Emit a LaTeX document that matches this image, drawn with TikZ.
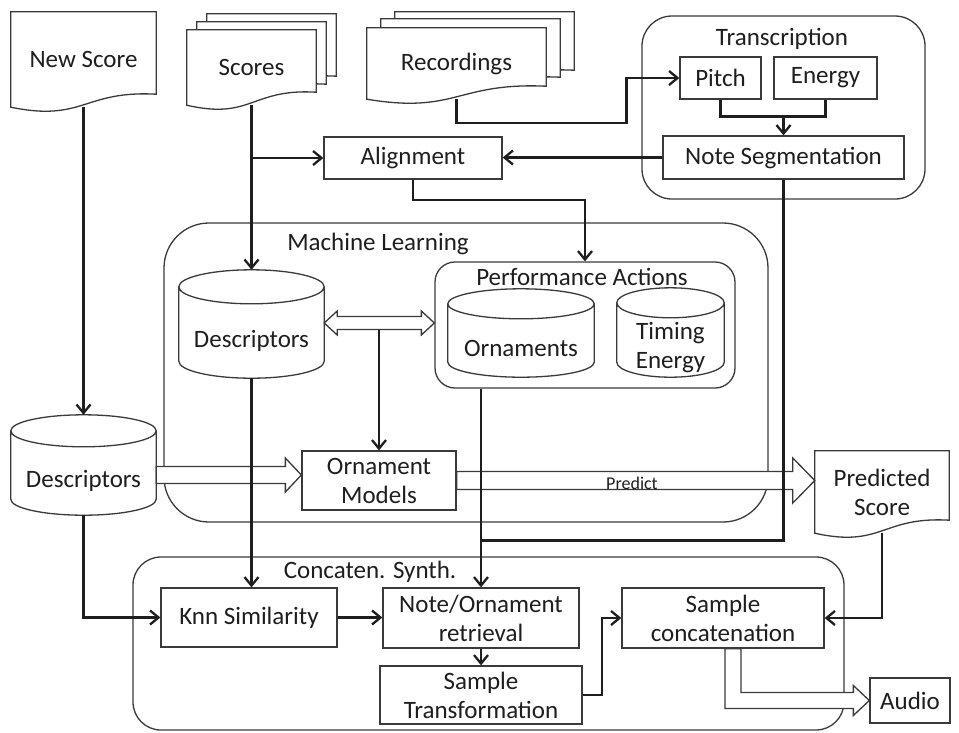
\documentclass[tikz,border=0pt]{standalone}
\usepackage{fontspec}
\setmainfont{Carlito}
\usepackage{xcolor}
\usepackage{tikz}
\usetikzlibrary{calc,arrows.meta,backgrounds}

\definecolor{ink}{HTML}{1E1E1E}
\definecolor{frame}{HTML}{3A3A3A}

% document outline round a node (node, x shift, y shift)
\newcommand{\docshape}[3]{%
  \draw[docline] let \p1=($(#1.north west)+(#2,#3)$), \p2=($(#1.south east)+(#2,#3)$) in
    (\x1,\y1) -- (\x2,\y1) -- (\x2,\y2+13pt)
    .. controls ({0.5*\x1+0.5*\x2},\y2+17pt) and ({0.5*\x1+0.5*\x2},\y2-15pt) .. (\x1,\y2) -- cycle;}
% cylinder above and round a node (node, half height of the ellipse)
\newcommand{\dbshape}[2]{%
  \draw[docline] let \p1=(#1.north west), \p2=(#1.south east) in
    (\x1,\y1+#2) -- (\x1,\y2+#2)
    arc[start angle=180, end angle=360, x radius={0.5*\x2-0.5*\x1}, y radius=#2]
    -- (\x2,\y1+#2)
    arc[start angle=0, end angle=180, x radius={0.5*\x2-0.5*\x1}, y radius=#2]
    -- cycle
    (\x1,\y1+#2) arc[start angle=180, end angle=360, x radius={0.5*\x2-0.5*\x1}, y radius=#2];}
% wide hollow arrow (from, to, half shaft, half head, head length)
\newcommand{\fatarrow}[5]{%
  \draw[hollow] let \p1=(#1), \p2=(#2) in
    (\x1,\y1+#3) -- (\x2-#5,\y1+#3) -- (\x2-#5,\y1+#4) -- (\x2,\y1)
    -- (\x2-#5,\y1-#4) -- (\x2-#5,\y1-#3) -- (\x1,\y1-#3) -- cycle;}

\begin{document}
\begin{tikzpicture}[x=1pt, y=-1pt,
    every node/.style={font=\fontsize{25}{29}\selectfont, text=ink, inner sep=0pt, align=center},
    box/.style={draw=frame, fill=white, line width=1.3pt},
    group/.style={draw=frame, line width=1.3pt},
    docline/.style={draw=frame, fill=white, line width=1.3pt},
    hollow/.style={draw=frame, fill=white, line width=1.3pt, line join=miter},
    link/.style={draw=ink, line width=2.3pt},
    conn/.style={link, -{Straight Barb[length=8.5pt,width=14pt]}}
]
\useasboundingbox (0,0) rectangle (959,732);

% Documents
\node (newscore) [minimum width=145, minimum height=95] at (83.5,59.5) {New Score};
\node (scores) [minimum width=129, minimum height=75] at (251.5,67.5) {Scores};
\node (recordings) [minimum width=179, minimum height=71] at (456.5,63.5) {Recordings};
\node (predicted) [minimum width=134, minimum height=82] at (882,492) {Predicted\\Score};

% Databases
\node (mldesc) [minimum width=145, minimum height=74] at (251.5,341) {Descriptors};
\node (leftdesc) [minimum width=145, minimum height=68] at (83.5,481) {Descriptors};
\node (ornaments) [minimum width=146, minimum height=58] at (521,348) {Ornaments};
\node (timing) [minimum width=107, minimum height=59] at (670.5,347.5) {Timing\\Energy};

% Boxes
\node (pitch) [box, minimum width=81, minimum height=42] at (720.5,78) {Pitch};
\node (energy) [box, minimum width=103, minimum height=42] at (825.5,78) {Energy};
\node (noteseg) [box, minimum width=241, minimum height=43] at (783.5,157.5) {Note Segmentation};
\node (alignment) [box, minimum width=178, minimum height=42] at (413,158) {Alignment};
\node (ornmodels) [box, minimum width=154, minimum height=59] at (379,480.5) {Ornament\\Models};
\node (knn) [box, minimum width=176, minimum height=59] at (249,617.5) {Knn Similarity};
\node (noteret) [box, minimum width=196, minimum height=60] at (481,618) {Note/Ornament\\retrieval};
\node (sampletr) [box, minimum width=202, minimum height=58] at (481,695) {Sample\\Transformation};
\node (sampleconc) [box, minimum width=202, minimum height=60] at (723,618) {Sample\\concatenation};
\node (audio) [box, minimum width=80, minimum height=45] at (910,700.5) {Audio};

% Group titles
\node (transtitle) at (782,39) {Transcription};
\node (mltitle) at (378,244) {Machine Learning};
\node (perftitle) at (582,277) {Performance Actions};
\node (synthtitle) at (370,572) {Concaten. Synth.};
\node (predict) [font=\fontsize{18}{20}\selectfont] at (632,483) {Predict};

% Groups, outlines and wide arrows
\begin{scope}[on background layer]
\node (transcription) [group, rounded corners=30, minimum width=283, minimum height=183] at (783.5,107.5) {};
\node (learning) [group, rounded corners=45, minimum width=604, minimum height=299] at (466,372.5) {};
\node (perf) [group, rounded corners=20, minimum width=300, minimum height=126] at (585,325) {};
\node (synth) [group, rounded corners=28, minimum width=711, minimum height=173] at (488.5,643.5) {};

\docshape{newscore}{0}{0}
\docshape{scores}{20}{-16}
\docshape{scores}{10}{-8}
\docshape{scores}{0}{0}
\docshape{recordings}{28}{-16}
\docshape{recordings}{14}{-9}
\docshape{recordings}{0}{0}
\docshape{predicted}{0}{0}

\dbshape{mldesc}{17pt}
\dbshape{leftdesc}{16pt}
\dbshape{ornaments}{15pt}
\dbshape{timing}{15pt}

\coordinate (dblL) at ($(mldesc.east)+(0,-18)$);
\coordinate (dblR) at (dblL -| perf.west);
\draw[hollow] let \p1=(dblL), \p2=(dblR) in
  (\x1,\y1) -- (\x1+13pt,\y1+12pt) -- (\x1+13pt,\y1+6.5pt) -- (\x2-13pt,\y1+6.5pt)
  -- (\x2-13pt,\y1+12pt) -- (\x2,\y1) -- (\x2-13pt,\y1-12pt) -- (\x2-13pt,\y1-6.5pt)
  -- (\x1+13pt,\y1-6.5pt) -- (\x1+13pt,\y1-12pt) -- cycle;

\fatarrow{$(leftdesc.east)+(0,-6)$}{ornmodels.west}{8.5pt}{17pt}{16pt}
\fatarrow{ornmodels.east}{predicted.west}{9pt}{22.5pt}{22pt}

\draw[hollow] let \p1=($(sampleconc.south)+(10,0)$), \p2=(audio.west) in
  (\x1-8pt,\y1) -- (\x1-8pt,\y2-8pt) -- (\x2-16pt,\y2-8pt) -- (\x2-16pt,\y2-15pt)
  -- (\x2,\y2) -- (\x2-16pt,\y2+15pt) -- (\x2-16pt,\y2+8pt) -- (\x1+8pt,\y2+8pt)
  -- (\x1+8pt,\y1) -- cycle;
\end{scope}

% Edges
\draw[conn] (newscore.south) -- ($(leftdesc.north)+(0,-32)$);
\draw[conn] (scores.south) -- ($(mldesc.north)+(0,-34)$);
\draw[conn] (scores.south |- alignment.west) -- (alignment.west);
\draw[conn] (recordings.south) -- ++(0,24) -| ($(pitch.west)+(-53,0)$) -- (pitch.west);
\draw[link] (pitch.south) |- ($(noteseg.north)+(0,-19)$) -| (energy.south);
\draw[conn] ($(noteseg.north)+(0,-19)$) -- (noteseg.north);
\draw[conn] (noteseg.west) -- (noteseg.west -| alignment.east);
\draw[conn] (alignment.south) -- ++(0,20) -| (perf.north);
\draw[link] (noteseg.south) |- ($(noteret.north)+(0,-47)$);
\draw[conn] (noteret.north |- perf.south) -- (noteret.north);
\draw[conn] (mldesc.south) -- (mldesc.south |- knn.north);
\draw[conn] ($(ornmodels.north |- dblL)+(0,6.5)$) -- (ornmodels.north);
\draw[conn] (leftdesc.south) |- (knn.west);
\draw[conn] (knn.east) -- (knn.east -| noteret.west);
\draw[conn] (noteret.south) -- (sampletr.north);
\draw[conn] (sampletr.east) -- ++(19,0) |- (sampleconc.west);
\draw[conn] (predicted.south) |- (sampleconc.east);

\end{tikzpicture}
\end{document}
